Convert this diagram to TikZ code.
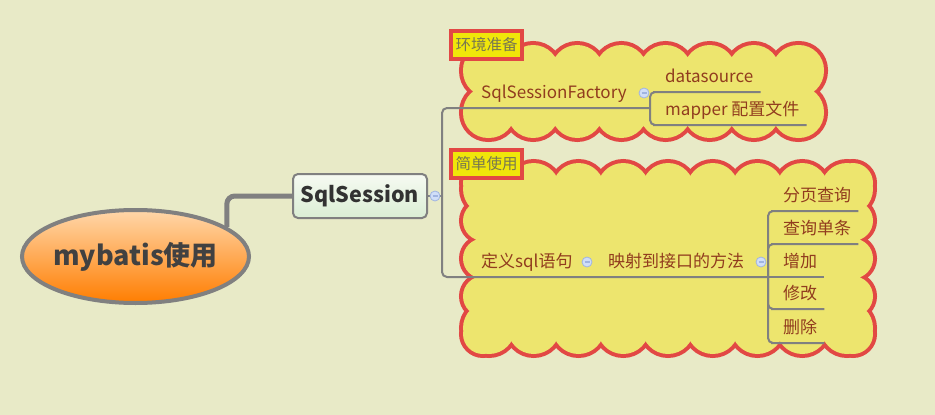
\documentclass[tikz,border=0pt]{standalone}
\usepackage{fontspec}
\setmainfont{Noto Sans CJK SC}
\usetikzlibrary{shapes.geometric}
\definecolor{paper}{RGB}{232,234,199}
\definecolor{cloudred}{RGB}{226,72,68}
\definecolor{cloudyellow}{RGB}{237,229,110}
\definecolor{tagfill}{RGB}{240,230,10}
\definecolor{tagtext}{RGB}{120,120,80}
\definecolor{topictext}{RGB}{145,60,30}
\definecolor{linegray}{RGB}{128,128,128}
\definecolor{foldedge}{RGB}{160,180,225}
\definecolor{foldfill}{RGB}{208,222,248}
\definecolor{rootedge}{RGB}{128,128,128}

\begin{document}
\begin{tikzpicture}[x=1pt, y=-1pt,
	branch/.style={draw=linegray, line width=2, rounded corners=5},
	topic/.style={anchor=south west, inner xsep=7, inner ysep=0, text height=14, text depth=9, font=\fontsize{17}{20}\selectfont, text=topictext},
	tagbox/.style={draw=cloudred, line width=4, fill=tagfill, minimum width=71, minimum height=28, inner sep=0, font=\fontsize{15.5}{18}\selectfont, text=tagtext},
	fold/.style={circle, draw=foldedge, fill=foldfill, line width=0.8, minimum size=10, inner sep=0, text=foldedge},
	cloudedge/.style={draw=cloudred, line width=8},
	cloudfill/.style={fill=cloudyellow}]
		\newcommand{\cloudbox}[8]{ % #1,#2: top left, #3,#4: bottom right, #5: last top puff, #6: last side puff, #7: top radius, #8: side radius
			\draw[cloudedge] foreach \i in {0,...,#5} {({#1+#7+\i*(#3-#1-2*#7)/#5},{#2+#7}) circle (#7) ({#1+#7+\i*(#3-#1-2*#7)/#5},{#4-#7}) circle (#7)}
				foreach \j in {0,...,#6} {({#1+#8},{#2+#8+\j*(#4-#2-2*#8)/#6}) circle (#8) ({#3-#8},{#2+#8+\j*(#4-#2-2*#8)/#6}) circle (#8)};
			\fill[cloudfill] foreach \i in {0,...,#5} {({#1+#7+\i*(#3-#1-2*#7)/#5},{#2+#7}) circle (#7) ({#1+#7+\i*(#3-#1-2*#7)/#5},{#4-#7}) circle (#7)}
				foreach \j in {0,...,#6} {({#1+#8},{#2+#8+\j*(#4-#2-2*#8)/#6}) circle (#8) ({#3-#8},{#2+#8+\j*(#4-#2-2*#8)/#6}) circle (#8)};
			\fill[cloudfill] ({#1+#8},{#2+#7}) rectangle ({#3-#8},{#4-#7});
		}

		\useasboundingbox (0,0) rectangle (935,415);
		\fill[paper] (0,0) rectangle (935,415);

		%clouds with their tags
		\cloudbox{463}{45}{824}{138}{7}{1}{26}{25}
		\cloudbox{463}{163}{873}{354}{8}{4}{26}{20}
		\node[tagbox] (envtag) at (486.5,44.5) {环境准备};
		\node[tagbox] (usetag) at (486.5,163.5) {简单使用};

		%central topics
		\node[ellipse, draw=rootedge, line width=4, inner sep=0, top color={rgb,255:red,255;green,215;blue,170}, bottom color={rgb,255:red,255;green,125;blue,0}, minimum width=227, minimum height=93, font=\fontsize{27}{30}\selectfont\bfseries, text={rgb,255:red,65;green,65;blue,65}] (root) at (135.5,256.5) {\makebox[0pt]{mybatis使用}};
		\node[draw=linegray, line width=2, rounded corners=5, top color={rgb,255:red,246;green,250;blue,242}, bottom color={rgb,255:red,218;green,238;blue,212}, minimum width=134, minimum height=44, font=\fontsize{21.5}{24}\selectfont\bfseries, text={rgb,255:red,50;green,50;blue,50}] (sess) at (360,196) {SqlSession};
		\draw[linegray, line width=5, rounded corners=8] (root.18) |- (sess.west);

		%topics
		\node[topic] (factory) at (474,108) {SqlSessionFactory};
		\node[topic] (datasource) at (658,92) {datasource};
		\node[topic] (mapper) at (658,125) {mapper 配置文件};
		\node[topic] (define) at (474,277) {定义sql语句};
		\node[topic] (method) at (601,277) {映射到接口的方法};
		\node[topic] (paging) at (776,211) {分页查询};
		\node[topic] (single) at (776,244) {查询单条};
		\node[topic] (add) at (776,277) {增加};
		\node[topic] (update) at (776,309) {修改};
		\node[topic] (remove) at (776,343) {删除};

		%branch lines
		\coordinate (spine) at (442,196);
		\coordinate (facspine) at (650,108);
		\coordinate (mapspine) at (768,277);
		\draw[branch] (sess.east) -- (spine);
		\draw[branch] (spine) |- (facspine);
		\draw[branch] (spine) |- (mapspine);
		\draw[branch] (facspine) |- (datasource.south west) -- (datasource.south east);
		\draw[branch] (facspine) |- (mapper.south west) -- (mapper.south east);
		\draw[branch] (mapspine) |- (paging.south west) -- (paging.south east);
		\draw[branch] (mapspine) |- (single.south west) -- (single.south east);
		\draw[branch] (mapspine) -- (add.south east);
		\draw[branch] (mapspine) |- (update.south west) -- (update.south east);
		\draw[branch] (mapspine) |- (remove.south west) -- (remove.south east);

		%fold marks
		\node[fold] (sessfold) at (435,196) {\rule{5pt}{1.2pt}};
		\node[fold] (facfold) at (644,93) {\rule{5pt}{1.2pt}};
		\node[fold] (definefold) at (587,262) {\rule{5pt}{1.2pt}};
		\node[fold] (methodfold) at (761,262) {\rule{5pt}{1.2pt}};
	\end{tikzpicture}
\end{document}
